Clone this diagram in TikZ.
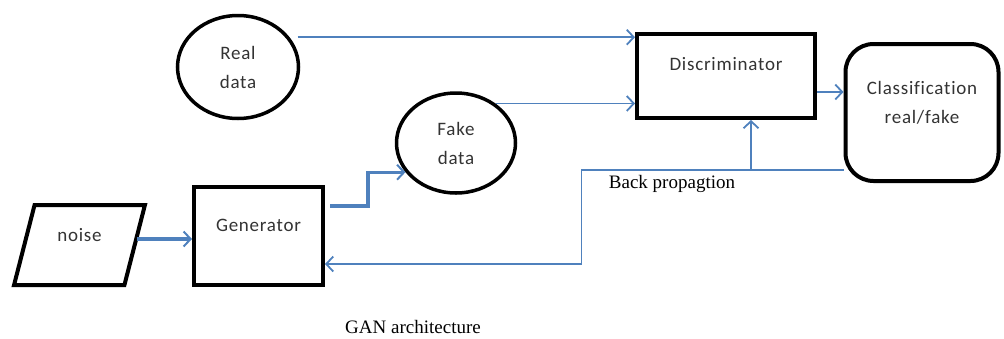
\documentclass[tikz,border=0pt]{standalone}
\usepackage{fontspec}
\setmainfont{Liberation Serif}
\newfontfamily\calib{Carlito}[LetterSpace=4,Ligatures=NoCommon]
\usetikzlibrary{arrows.meta,shapes.geometric,calc}
\definecolor{ofblue}{RGB}{79,129,189}
\tikzset{
  boxtext/.style={font=\calib\fontsize{19}{29}\selectfont, align=center, text=black!80, inner sep=0pt},
  blackbox/.style={boxtext, draw=black, line width=4pt, rectangle},
  dataell/.style={boxtext, draw=black, line width=3.5pt, ellipse},
  arr/.style={draw=ofblue, line width=1.8pt, -{Straight Barb[length=7pt,width=15pt,line width=1.8pt]}},
  thickarr/.style={draw=ofblue, line width=3.2pt, -{Straight Barb[length=7pt,width=15pt,line width=2pt]}},
  serif/.style={font=\fontsize{19}{23}\selectfont, inner sep=0pt}
}
\begin{document}
\begin{tikzpicture}[x=1pt,y=-1pt]
\useasboundingbox (0,0) rectangle (1004,338);
% nodes
\node[dataell, minimum width=121pt, minimum height=103pt] (real) at (238,67) {Real\\data};
\node[dataell, minimum width=119pt, minimum height=100pt] (fake) at (456,143) {Fake\\data};
\node[boxtext, draw=black, line width=4pt, trapezium, trapezium left angle=73, trapezium right angle=107,
      trapezium stretches=true, minimum width=131pt, minimum height=80pt] (noise) at (79.5,245) {noise\\[-9pt]\mbox{}};
\node[blackbox, minimum width=129pt, minimum height=98pt] (gen) at (258.5,236) {Generator\\[-7pt]\mbox{}};
\node[blackbox, minimum width=178pt, minimum height=84pt] (disc) at (726,76) {Discriminator\\[-5pt]\mbox{}};
\node[blackbox, rounded corners=28pt, minimum width=153pt, minimum height=137pt] (class) at (922,112.5) {Classification\\real/fake\\[-9pt]\mbox{}};
\node[serif, anchor=base] (bplabel) at (672,188) {Back propagtion};
\node[serif, anchor=base] (title) at (413,333) {GAN architecture};
% connectors
\coordinate (rout) at ($(real.30)+(8,0)$);
\draw[arr] (rout) -- (rout -| disc.west);
\draw[arr] (fake.45) -- (fake.45 -| disc.west);
\draw[arr] ([yshift=-16pt]disc.east) -- ([yshift=-16pt]disc.east -| class.west);
\draw[thickarr] ([yshift=6pt]noise.east) -- ([yshift=6pt]noise.east -| gen.west);
\coordinate (gout) at ([xshift=5pt,yshift=30pt]gen.east);
\draw[thickarr] (gout) -- ++(38,0) |- (fake.210);
\coordinate (bpA) at ($(class.west)+(0,57.5)$);
\coordinate (dj) at ([xshift=25pt]disc.south);
\draw[arr] (bpA) -- ++(-262,0) |- ([yshift=-28pt]gen.east);
\draw[arr] (bpA -| dj) -- (dj);
\end{tikzpicture}
\end{document}
